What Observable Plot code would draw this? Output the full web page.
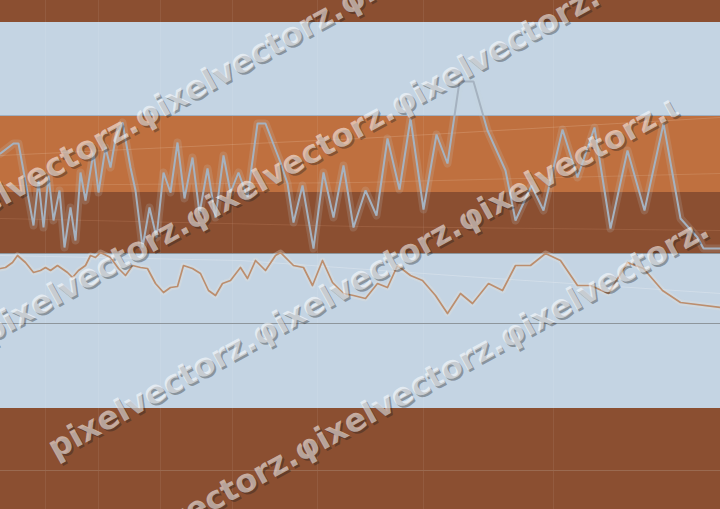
<!DOCTYPE html>
<html>
<head>
<meta charset="utf-8">
<script src="https://cdn.jsdelivr.net/npm/d3@7"></script>
<script src="https://cdn.jsdelivr.net/npm/@observablehq/plot@0.6"></script>
<style>
  html, body { margin: 0; padding: 0; background: #C4D4E3; }
  #chart svg { display: block; overflow: hidden; }
</style>
</head>
<body>
<div id="chart"></div>
<script>
// Values are read in picture units (distance from the top edge).
const bandTop    = [0, 22, 115, 192, 253, 408];
const bandBottom = [22, 115, 192, 253, 408, 509];
const bandKind   = ["brown", "sky", "copper", "brown", "sky", "brown"];

const ruleLevels = [115, 253, 323, 470];
const ruleKind   = ["sky", "grey", "grey", "brown"];

const gridX = [45, 98, 160, 232, 317, 423, 553];

const grayX = [0,13,18,33,38,43,48,53,59,64,70,75,80,85,93,98,105,110,115,122,130,135,142,149,156,163,170,177,184,192,199,207,215,223,230,238,247,257,265,280,287,293,302,313,323,333,343,353,365,376,387,399,410,423,436,447,459,473,487,505,515,531,543,562,577,594,610,627,644,663,680,697,703,720];
const grayY = [153,143,143,225,180,227,175,220,190,247,207,240,172,200,152,192,147,167,138,122,167,190,247,207,237,172,192,142,198,157,213,168,217,155,192,172,197,123,123,162,183,222,185,248,172,217,165,227,190,215,138,189,118,209,134,163,81,81,130,170,220,185,210,129,177,127,228,150,210,123,218,237,248,248];

const brownX = [0,5,12,17,25,33,40,45,50,57,67,72,78,85,90,95,100,110,118,125,132,140,147,155,163,170,177,183,192,200,208,215,222,230,240,247,255,265,275,280,293,303,312,322,332,343,353,365,377,387,397,410,422,435,447,460,472,488,502,515,530,545,560,577,590,608,627,643,662,680,720];
const brownY = [268,267,262,255,262,272,270,267,270,265,272,277,270,265,255,257,252,257,268,275,265,267,268,283,292,287,286,265,268,273,290,295,283,280,267,278,260,270,255,252,265,267,285,260,282,293,295,298,283,287,265,275,280,295,313,293,303,283,290,265,265,253,260,285,285,293,262,268,290,302,307];

// faint trend lines
const trend1X = [0, 360, 720], trend1Y = [155, 138, 117];
const trend2X = [0, 360, 720], trend2Y = [185, 182, 173];
const trend3X = [0, 360, 720], trend3Y = [218, 226, 230];
const trend4X = [0, 240, 480, 720], trend4Y = [255, 260, 277, 293];

// watermark rows
const wmText = [
  "pixelvectorz.φixelvectorz.φixelvectorz.",
  "pixelvectorz.φixelvectorz.φixelvectorz.",
  "pixelvectorz.φixelvectorz.φixelvectorz.ι",
  "pixelvectorz.φixelvectorz.φixelvectorz."
];
const wmX = [-68, -17, 50, 92];
const wmY = [233, 334, 450, 566];

const idx = a => a.map((_, i) => i);

const wmStyle = {
  rotate: -29, textAnchor: "start", lineAnchor: "middle",
  fontSize: 32, fontWeight: "bold", fontFamily: "DejaVu Sans"
};

const plot = Plot.plot({
  width: 720,
  height: 509,
  margin: 0,
  x: { domain: [0, 720], axis: null },
  y: { domain: [509, 0], axis: null },
  color: { domain: ["brown", "sky", "copper", "grey"], range: ["#8B4F31", "#C4D4E3", "#BF703F", "#8E969C"] },
  marks: [
    Plot.rect(idx(bandTop), { y1: i => bandTop[i], y2: i => bandBottom[i], fill: i => bandKind[i] }),
    Plot.ruleX(gridX, { stroke: "#ffffff", strokeOpacity: 0.07 }),
    Plot.line(trend1X, { x: trend1X, y: trend1Y, stroke: "#F0D0B8", strokeOpacity: 0.22, strokeWidth: 1 }),
    Plot.line(trend2X, { x: trend2X, y: trend2Y, stroke: "#F0D0B8", strokeOpacity: 0.18, strokeWidth: 1 }),
    Plot.line(trend3X, { x: trend3X, y: trend3Y, stroke: "#C08060", strokeOpacity: 0.3, strokeWidth: 1 }),
    Plot.line(trend4X, { x: trend4X, y: trend4Y, stroke: "#E0E8F0", strokeOpacity: 0.5, strokeWidth: 1 }),
    Plot.ruleY(idx(ruleLevels), {
      y: i => ruleLevels[i],
      stroke: i => ruleKind[i] === "sky" ? "#9FB0C2" : ruleKind[i] === "grey" ? "#8E969C" : "#9A6A50",
      strokeWidth: 1.2
    }),
    // gray line with halo
    Plot.line(grayX, { x: grayX, y: grayY, stroke: "#C8D2DC", strokeOpacity: 0.16, strokeWidth: 8, strokeLinejoin: "round" }),
    Plot.line(grayX, { x: grayX, y: grayY, stroke: "#A5B2C0", strokeWidth: 2, strokeLinejoin: "miter" }),
    // brown line with halo
    Plot.line(brownX, { x: brownX, y: brownY, stroke: "#E6E0DC", strokeOpacity: 0.3, strokeWidth: 6, strokeLinejoin: "round" }),
    Plot.line(brownX, { x: brownX, y: brownY, stroke: "#BC8E6E", strokeWidth: 1.7 }),
    // watermark shadow and face
    Plot.text(idx(wmText), {
      ...wmStyle,
      x: i => wmX[i], y: i => wmY[i], text: i => wmText[i],
      fill: "#1a1a1a", fillOpacity: 0.35, dx: 2, dy: 2
    }),
    Plot.text(idx(wmText), {
      ...wmStyle,
      x: i => wmX[i], y: i => wmY[i], text: i => wmText[i],
      fill: "#ffffff", fillOpacity: 0.55
    })
  ]
});
document.getElementById("chart").appendChild(plot);
</script>
</body>
</html>
